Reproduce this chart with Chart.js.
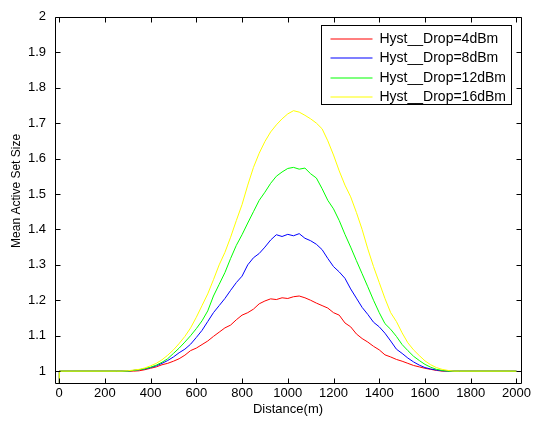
<!DOCTYPE html>
<html>
<head>
<meta charset="utf-8">
<script src="https://cdn.jsdelivr.net/npm/chart.js@4.4.0/dist/chart.umd.min.js"></script>
<style>
  html, body { margin: 0; padding: 0; background: #fff; }
  canvas { display: block; }
</style>
</head>
<body>
<canvas id="chart" width="534" height="424"></canvas>
<script>
// distance (m) sampled along the route
const distance = [0, 1,
  250, 275, 300, 325, 350, 375, 400, 425, 450, 475,
  500, 525, 550, 575, 600, 625, 650, 675, 700, 725,
  750, 775, 800, 825, 850, 875, 900, 925, 950, 975,
  1000, 1025, 1050, 1075, 1100, 1125, 1150, 1175, 1200, 1225,
  1250, 1275, 1300, 1325, 1350, 1375, 1400, 1425, 1450, 1475,
  1500, 1525, 1550, 1575, 1600, 1625, 1650, 1675, 1700, 1725,
  1750, 2000];

const drop4 = [0, 1,
  1.000, 1.000, 1.000, 1.000, 1.001, 1.004, 1.008, 1.012, 1.018, 1.022,
  1.028, 1.035, 1.045, 1.058, 1.065, 1.075, 1.085, 1.098, 1.110, 1.122,
  1.130, 1.145, 1.158, 1.165, 1.175, 1.190, 1.198, 1.204, 1.202, 1.207,
  1.205, 1.210, 1.212, 1.207, 1.200, 1.192, 1.185, 1.178, 1.165, 1.158,
  1.136, 1.125, 1.105, 1.092, 1.082, 1.070, 1.060, 1.046, 1.040, 1.033,
  1.028, 1.022, 1.016, 1.012, 1.008, 1.005, 1.002, 1.000, 1.000, 1.000,
  1.000, 1.000];

const drop8 = [0, 1,
  1.000, 1.000, 1.000, 1.002, 1.004, 1.006, 1.010, 1.015, 1.022, 1.030,
  1.040, 1.052, 1.062, 1.076, 1.095, 1.115, 1.140, 1.165, 1.185, 1.205,
  1.228, 1.250, 1.268, 1.300, 1.320, 1.332, 1.350, 1.370, 1.385, 1.380,
  1.386, 1.382, 1.388, 1.375, 1.368, 1.358, 1.343, 1.318, 1.295, 1.280,
  1.262, 1.232, 1.206, 1.180, 1.160, 1.138, 1.125, 1.107, 1.085, 1.062,
  1.050, 1.037, 1.026, 1.017, 1.010, 1.006, 1.003, 1.001, 1.000, 1.000,
  1.000, 1.000];

const drop12 = [0, 1,
  1.000, 1.000, 1.000, 1.002, 1.004, 1.007, 1.011, 1.017, 1.025, 1.035,
  1.050, 1.065, 1.082, 1.100, 1.120, 1.142, 1.170, 1.212, 1.245, 1.278,
  1.318, 1.355, 1.385, 1.418, 1.450, 1.482, 1.505, 1.530, 1.550, 1.562,
  1.572, 1.575, 1.570, 1.573, 1.557, 1.545, 1.515, 1.482, 1.458, 1.425,
  1.386, 1.350, 1.312, 1.275, 1.238, 1.200, 1.165, 1.134, 1.118, 1.098,
  1.075, 1.058, 1.042, 1.030, 1.019, 1.011, 1.005, 1.002, 1.000, 1.000,
  1.000, 1.000];

const drop16 = [0, 1,
  1.000, 1.000, 1.001, 1.003, 1.005, 1.009, 1.015, 1.022, 1.032, 1.045,
  1.060, 1.078, 1.098, 1.122, 1.152, 1.185, 1.218, 1.258, 1.300, 1.335,
  1.378, 1.425, 1.470, 1.525, 1.575, 1.615, 1.648, 1.675, 1.695, 1.712,
  1.726, 1.735, 1.731, 1.722, 1.712, 1.700, 1.684, 1.650, 1.610, 1.565,
  1.525, 1.492, 1.448, 1.400, 1.345, 1.295, 1.250, 1.205, 1.165, 1.140,
  1.108, 1.080, 1.060, 1.044, 1.029, 1.018, 1.010, 1.005, 1.002, 1.000,
  1.000, 1.000];

const seriesNames = ['Hyst__Drop=4dBm', 'Hyst__Drop=8dBm', 'Hyst__Drop=12dBm', 'Hyst__Drop=16dBm'];

const xTickValues = [0, 200, 400, 600, 800, 1000, 1200, 1400, 1600, 1800, 2000];
const xTickLabels = ['0', '200', '400', '600', '800', '1000', '1200', '1400', '1600', '1800', '2000'];
const yTickValues = [1, 1.1, 1.2, 1.3, 1.4, 1.5, 1.6, 1.7, 1.8, 1.9, 2];
const yTickLabels = ['1', '1.1', '1.2', '1.3', '1.4', '1.5', '1.6', '1.7', '1.8', '1.9', '2'];
const yTitle = 'Mean Active Set Size';

const FONT = "'Liberation Sans', Arial, sans-serif";
const colors = ['#ff0000', '#0000ff', '#00ff00', '#ffff00'];

function toPoints(values) {
  return distance.map((d, i) => ({ x: d, y: values[i] }));
}

const datasets = [drop4, drop8, drop12, drop16].map((vals, i) => ({
  label: seriesNames[i],
  data: toPoints(vals),
  borderColor: colors[i],
  backgroundColor: colors[i],
  borderWidth: 1,
  pointRadius: 0,
  tension: 0,
  fill: false,
  order: 4 - i
}));

// box round the plot, inward ticks on all four sides, y title and the legend
const matlabFrame = {
  id: 'matlabFrame',
  afterDatasetsDraw(chart) {
    const { ctx, chartArea: a, scales } = chart;
    const left = Math.round(a.left) + 0.5, right = Math.round(a.right) + 0.5;
    const top = Math.round(a.top) + 0.5, bottom = Math.round(a.bottom) + 0.5;
    const L = 5;
    ctx.save();
    ctx.strokeStyle = '#000';
    ctx.lineWidth = 1;
    ctx.beginPath();
    ctx.rect(left, top, right - left, bottom - top);
    xTickValues.forEach(v => {
      const px = Math.round(scales.x.getPixelForValue(v)) + 0.5;
      ctx.moveTo(px, bottom); ctx.lineTo(px, bottom - L);
      ctx.moveTo(px, top); ctx.lineTo(px, top + L);
    });
    yTickValues.forEach(v => {
      const py = Math.round(scales.y.getPixelForValue(v)) + 0.5;
      ctx.moveTo(left, py); ctx.lineTo(left + L, py);
      ctx.moveTo(right, py); ctx.lineTo(right - L, py);
    });
    ctx.stroke();

    // y axis title, a little above the axis middle as in the original
    ctx.save();
    ctx.translate(17, (a.top + a.bottom) / 2 - 9);
    ctx.rotate(-Math.PI / 2);
    ctx.font = '12px ' + FONT;
    ctx.fillStyle = '#000';
    ctx.textAlign = 'center';
    ctx.textBaseline = 'middle';
    ctx.fillText(yTitle, 0, 0);
    ctx.restore();

    // legend
    const w = 190, h = 79;
    const lx = Math.round(a.right - 10 - w) + 0.5;
    const ly = Math.round(a.top + 8) + 0.5;
    ctx.fillStyle = '#fff';
    ctx.fillRect(lx, ly, w, h);
    ctx.strokeStyle = '#000';
    ctx.strokeRect(lx, ly, w, h);
    ctx.font = '14px ' + FONT;
    ctx.textBaseline = 'middle';
    ctx.textAlign = 'left';
    seriesNames.forEach((name, i) => {
      const ry = Math.round(ly + 13.5 + i * 19.3);
      ctx.strokeStyle = colors[i];
      ctx.lineWidth = 1.2;
      ctx.beginPath();
      ctx.moveTo(lx + 9, ry);
      ctx.lineTo(lx + 51, ry);
      ctx.stroke();
      ctx.fillStyle = '#000';
      ctx.fillText(name, lx + 58, ry + 0.5);
    });
    ctx.restore();
  }
};

new Chart(document.getElementById('chart'), {
  type: 'line',
  data: { datasets },
  options: {
    responsive: false,
    animation: false,
    devicePixelRatio: 1,
    layout: { padding: { top: 13, right: 10, left: 0, bottom: 0 } },
    plugins: { legend: { display: false }, tooltip: { enabled: false } },
    scales: {
      x: {
        type: 'linear',
        min: -18,
        max: 2020,
        afterBuildTicks: s => { s.ticks = xTickValues.map(v => ({ value: v })); },
        afterFit: s => { s.height = 41; },
        grid: { display: false, drawTicks: false },
        border: { display: false },
        ticks: {
          padding: 3,
          maxRotation: 0,
          color: '#000',
          font: { family: FONT, size: 13 },
          callback: (v) => xTickLabels[xTickValues.indexOf(v)]
        },
        title: {
          display: true,
          text: 'Distance(m)',
          color: '#000',
          font: { family: FONT, size: 13 },
          padding: { top: 0, bottom: 7 }
        }
      },
      y: {
        type: 'linear',
        min: 0.9665,
        max: 2,
        afterBuildTicks: s => { s.ticks = yTickValues.map(v => ({ value: v })); },
        afterFit: s => { s.width = 55; },
        grid: { display: false, drawTicks: false },
        border: { display: false },
        ticks: {
          padding: 9,
          color: '#000',
          font: { family: FONT, size: 13 },
          callback: (v) => yTickLabels[yTickValues.indexOf(v)]
        },
        title: { display: false }
      }
    }
  },
  plugins: [matlabFrame]
});
</script>
</body>
</html>
